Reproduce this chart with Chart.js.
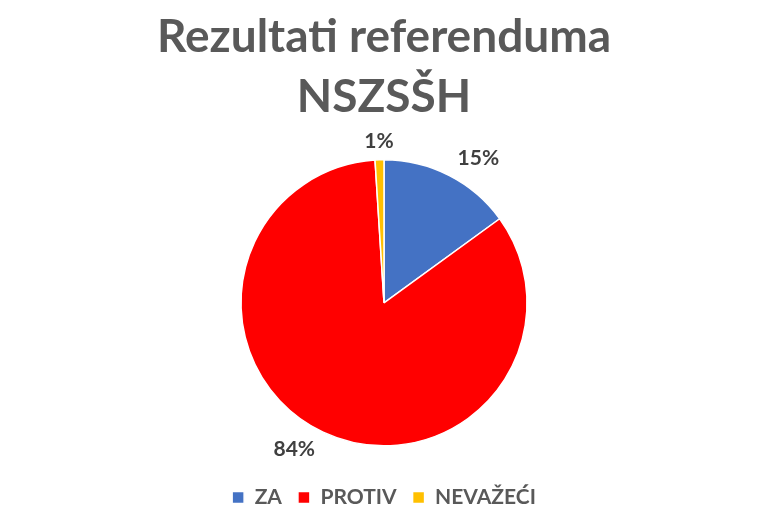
<!DOCTYPE html>
<html>
<head>
<meta charset="utf-8">
<script src="https://cdn.jsdelivr.net/npm/chart.js@4/dist/chart.umd.min.js"></script>
<style>
  html, body { margin: 0; padding: 0; background: #fff; }
  #wrap { width: 768px; height: 518px; }
</style>
</head>
<body>
<div id="wrap"><canvas id="myChart"></canvas></div>
<script>
'use strict';
let labels = ['ZA', 'PROTIV', 'NEVAŽEĆI'];
let shares = [15, 84, 1];
let colors = ['#4472C4', '#FF0000', '#FFC000'];
let titleLines = ['Rezultati referenduma', 'NSZSŠH'];

// percent labels outside the slices
let outsideLabels = {
  id: 'outsideLabels',
  afterDatasetsDraw(chart) {
    let ctx = chart.ctx;
    let meta = chart.getDatasetMeta(0);
    let total = shares.reduce((a, b) => a + b, 0);
    ctx.save();
    ctx.font = 'bold 21px Lato';
    ctx.fillStyle = '#404040';
    ctx.textBaseline = 'middle';
    meta.data.forEach((arc, i) => {
      let mid = (arc.startAngle + arc.endAngle) / 2;
      let r = arc.outerRadius + 19;
      let x = arc.x + Math.cos(mid) * r;
      let y = arc.y + Math.sin(mid) * r;
      let c = Math.cos(mid);
      if (Math.abs(c) < 0.2) {
        ctx.textAlign = 'center';
      } else if (c > 0) {
        ctx.textAlign = 'left';
      } else {
        ctx.textAlign = 'right';
      }
      ctx.fillText(Math.round(shares[i] / total * 100) + '%', x, y);
    });
    ctx.restore();
  }
};

let ctx = document.getElementById('myChart').getContext('2d');
let myChart = new Chart(ctx, {
  type: 'pie',
  data: {
    labels: labels,
    datasets: [{
      data: shares,
      backgroundColor: colors,
      borderColor: '#ffffff',
      borderWidth: 1.5,
      radius: 143
    }]
  },
  options: {
    responsive: true,
    maintainAspectRatio: false,
    animation: false,
    layout: { padding: { top: 0, bottom: 0, left: 0, right: 0 } },
    plugins: {
      title: {
        display: true,
        text: titleLines,
        color: '#595959',
        font: { family: 'Lato', size: 46, weight: 'bold', lineHeight: 1.3 },
        padding: { top: 7, bottom: 8 }
      },
      legend: {
        position: 'bottom',
        labels: {
          color: '#595959',
          font: { family: 'Lato', size: 21, weight: 'bold' },
          boxWidth: 12,
          boxHeight: 12,
          padding: 16
        }
      },
      tooltip: { enabled: false }
    }
  },
  plugins: [outsideLabels]
});
</script>
</body>
</html>
